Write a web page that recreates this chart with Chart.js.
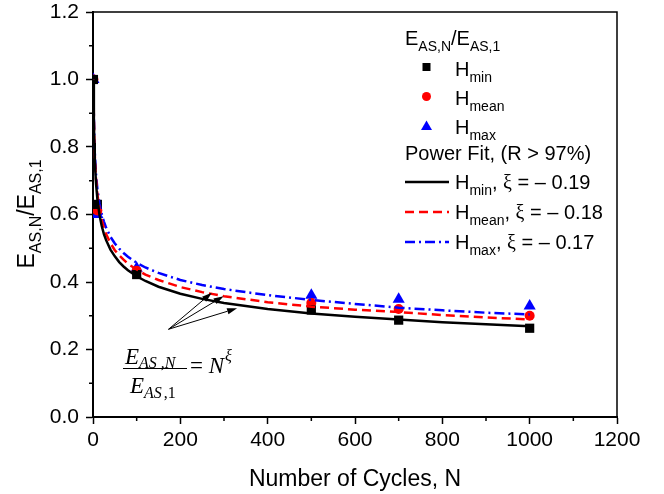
<!DOCTYPE html>
<html>
<head>
<meta charset="utf-8">
<script src="https://cdn.jsdelivr.net/npm/chart.js@4.4.0/dist/chart.umd.min.js"></script>
<style>
    body { margin: 0; background: #fff; }
    canvas { display: block; }
</style>
</head>
<body>
<canvas id="cyclesChart" width="664" height="494"></canvas>
<script>
// measured points
var cycles = [1, 10, 100, 500, 700, 1000];
var hMin = [1.0, 0.630, 0.422, 0.317, 0.287, 0.263];
var hMean = [1.0, 0.612, 0.433, 0.338, 0.320, 0.300];
var hMax = [1.0, 0.600, 0.441, 0.361, 0.349, 0.329];

// power fit curves
var fitN = [1, 2, 3, 4, 5, 7, 10, 15, 20, 25, 30, 40, 50, 60, 70, 80, 100, 120, 150, 200, 250, 300, 400, 500, 600, 700, 800, 900, 1000];
var fitMin = [1.0, 0.877, 0.812, 0.768, 0.737, 0.691, 0.646, 0.598, 0.566, 0.542, 0.524, 0.496, 0.476, 0.459, 0.446, 0.435, 0.417, 0.403, 0.386, 0.365, 0.350, 0.338, 0.320, 0.307, 0.297, 0.289, 0.281, 0.275, 0.269];
var fitMean = [1.0, 0.883, 0.821, 0.779, 0.749, 0.704, 0.661, 0.614, 0.583, 0.560, 0.542, 0.515, 0.494, 0.479, 0.466, 0.454, 0.437, 0.422, 0.406, 0.385, 0.370, 0.358, 0.340, 0.327, 0.318, 0.311, 0.302, 0.295, 0.289];
var fitMax = [1.0, 0.889, 0.830, 0.790, 0.761, 0.718, 0.676, 0.631, 0.601, 0.579, 0.561, 0.534, 0.514, 0.499, 0.486, 0.475, 0.457, 0.443, 0.427, 0.406, 0.391, 0.379, 0.361, 0.347, 0.335, 0.324, 0.316, 0.309, 0.304];

var xTicks = [0, 200, 400, 600, 800, 1000, 1200];
var yTicks = [0.0, 0.2, 0.4, 0.6, 0.8, 1.0, 1.2];

var sans = '"Liberation Sans", Arial, sans-serif';
var serif = '"Liberation Serif", "Times New Roman", serif';

function pairs(xs, ys) {
    return xs.map(function(x, i) { return { x: x, y: ys[i] }; });
}

// draws text made of pieces, some of them subscript / superscript
function richText(ctx, x, y, parts, size) {
    parts.forEach(function(p) {
        var fs = p.small ? Math.round(size * 0.68) : size;
        ctx.font = (p.italic ? 'italic ' : '') + fs + 'px ' + (p.serif ? serif : sans);
        var dy = 0;
        if (p.sub) dy = size * 0.3;
        if (p.sup) dy = -size * 0.42;
        if (p.dy !== undefined) dy = p.dy;
        ctx.fillText(p.t, x, y + dy);
        x += ctx.measureText(p.t).width + (p.gap || 0);
    });
    return x;
}

function arrow(ctx, x0, y0, x1, y1) {
    var a = Math.atan2(y1 - y0, x1 - x0);
    var len = 10, hw = 3.2;
    ctx.beginPath();
    ctx.moveTo(x0, y0);
    ctx.lineTo(x1 - len * Math.cos(a), y1 - len * Math.sin(a));
    ctx.stroke();
    ctx.beginPath();
    ctx.moveTo(x1, y1);
    ctx.lineTo(x1 - len * Math.cos(a) + hw * Math.sin(a), y1 - len * Math.sin(a) - hw * Math.cos(a));
    ctx.lineTo(x1 - len * Math.cos(a) - hw * Math.sin(a), y1 - len * Math.sin(a) + hw * Math.cos(a));
    ctx.closePath();
    ctx.fill();
}

var decorPlugin = {
    id: 'decor',
    afterDraw: function(chart) {
        var ctx = chart.ctx;
        var area = chart.chartArea;
        var xs = chart.scales.x, ys = chart.scales.y;
        ctx.save();
        ctx.strokeStyle = '#000';
        ctx.fillStyle = '#000';

        // top and right frame
        ctx.lineWidth = 1.5;
        ctx.beginPath();
        ctx.moveTo(area.left, area.top);
        ctx.lineTo(area.right, area.top);
        ctx.lineTo(area.right, area.bottom);
        ctx.stroke();

        // minor ticks
        ctx.lineWidth = 1.5;
        ctx.beginPath();
        for (var i = 0; i < xTicks.length - 1; i++) {
            var mx = xs.getPixelForValue((xTicks[i] + xTicks[i + 1]) / 2);
            ctx.moveTo(mx, area.bottom);
            ctx.lineTo(mx, area.bottom + 4);
        }
        for (var j = 0; j < yTicks.length - 1; j++) {
            var my = ys.getPixelForValue((yTicks[j] + yTicks[j + 1]) / 2);
            ctx.moveTo(area.left, my);
            ctx.lineTo(area.left - 4, my);
        }
        ctx.stroke();

        // axis titles
        ctx.textBaseline = 'alphabetic';
        ctx.textAlign = 'center';
        ctx.font = '23px ' + sans;
        ctx.fillText('Number of Cycles, N', (area.left + area.right) / 2, 486);

        ctx.save();
        ctx.translate(34, (area.top + area.bottom) / 2 + 54);
        ctx.rotate(-Math.PI / 2);
        ctx.textAlign = 'left';
        richText(ctx, 0, 0, [
            { t: 'E' }, { t: 'AS,N', small: true, sub: true }, { t: '/E' }, { t: 'AS,1', small: true, sub: true }
        ], 23);
        ctx.restore();

        // legend
        ctx.textAlign = 'left';
        var lx = 405, tx = 455;
        richText(ctx, lx, 45, [
            { t: 'E' }, { t: 'AS,N', small: true, sub: true }, { t: '/E' }, { t: 'AS,1', small: true, sub: true }
        ], 20);

        ctx.fillStyle = '#000';
        ctx.fillRect(426.5 - 4, 67 - 4, 8, 8);
        richText(ctx, tx, 76, [{ t: 'H' }, { t: 'min', small: true, sub: true }], 20);

        ctx.fillStyle = '#ff0000';
        ctx.beginPath();
        ctx.arc(426.5, 96.5, 4.5, 0, Math.PI * 2);
        ctx.fill();
        ctx.fillStyle = '#000';
        richText(ctx, tx, 105, [{ t: 'H' }, { t: 'mean', small: true, sub: true }], 20);

        ctx.fillStyle = '#0000ff';
        ctx.beginPath();
        ctx.moveTo(426.5, 120.5);
        ctx.lineTo(432, 130);
        ctx.lineTo(421, 130);
        ctx.closePath();
        ctx.fill();
        ctx.fillStyle = '#000';
        richText(ctx, tx, 134, [{ t: 'H' }, { t: 'max', small: true, sub: true }], 20);

        ctx.font = '20px ' + sans;
        ctx.fillText('Power Fit, (R > 97%)', lx, 160);

        var fitRows = [
            { y: 182, color: '#000', dash: [], sub: 'min', val: '0.19' },
            { y: 212, color: '#ff0000', dash: [9, 5], sub: 'mean', val: '0.18' },
            { y: 242, color: '#0000ff', dash: [10, 4, 2, 4], sub: 'max', val: '0.17' }
        ];
        fitRows.forEach(function(r) {
            ctx.strokeStyle = r.color;
            ctx.lineWidth = 2.5;
            ctx.setLineDash(r.dash);
            ctx.beginPath();
            ctx.moveTo(lx, r.y);
            ctx.lineTo(449, r.y);
            ctx.stroke();
            ctx.setLineDash([]);
            ctx.fillStyle = '#000';
            richText(ctx, tx, r.y + 6.5, [
                { t: 'H' }, { t: r.sub, small: true, sub: true }, { t: ', ' },
                { t: '\u03BE', serif: true }, { t: ' = \u2013 ' + r.val }
            ], 20);
        });

        // formula annotation
        ctx.fillStyle = '#000';
        ctx.strokeStyle = '#000';
        richText(ctx, 125, 364, [
            { t: 'E', serif: true, italic: true, gap: 0 },
            { t: 'AS', serif: true, italic: true, small: true, dy: 3.5, gap: 4 },
            { t: ',N', serif: true, italic: true, small: true, dy: 3.5 }
        ], 23);
        ctx.lineWidth = 1;
        ctx.beginPath();
        ctx.moveTo(123, 368.5);
        ctx.lineTo(187, 368.5);
        ctx.stroke();
        richText(ctx, 130, 393, [
            { t: 'E', serif: true, italic: true, gap: 0 },
            { t: 'AS', serif: true, italic: true, small: true, dy: 5, gap: 2 },
            { t: ',1', serif: true, small: true, dy: 5 }
        ], 23);
        richText(ctx, 190, 372.5, [
            { t: '= ', serif: true },
            { t: 'N', serif: true, italic: true, gap: 1 },
            { t: '\u03BE', serif: true, italic: true, small: true, dy: -12 }
        ], 23);

        // arrows towards the three fits
        ctx.lineWidth = 1;
        var sx = xs.getPixelForValue(173), sy = ys.getPixelForValue(0.26);
        arrow(ctx, sx, sy, xs.getPixelForValue(272), ys.getPixelForValue(0.368));
        arrow(ctx, sx, sy, xs.getPixelForValue(299), ys.getPixelForValue(0.358));
        arrow(ctx, sx, sy, xs.getPixelForValue(330), ys.getPixelForValue(0.322));

        ctx.restore();
    }
};

var ctx = document.getElementById('cyclesChart');
var chart = new Chart(ctx, {
    type: 'line',
    data: {
        datasets: [
            {
                label: 'Hmin',
                data: pairs(cycles, hMin),
                showLine: false,
                pointStyle: 'rect',
                pointRadius: 6.5,
                backgroundColor: '#000',
                borderColor: '#000',
                borderWidth: 0,
                order: 3
            },
            {
                label: 'Hmean',
                data: pairs(cycles, hMean),
                showLine: false,
                pointStyle: 'circle',
                pointRadius: 5,
                backgroundColor: '#ff0000',
                borderColor: '#ff0000',
                borderWidth: 0,
                order: 3
            },
            {
                label: 'Hmax',
                data: pairs(cycles, hMax),
                showLine: false,
                pointStyle: 'triangle',
                pointRadius: 7,
                backgroundColor: '#0000ff',
                borderColor: '#0000ff',
                borderWidth: 0,
                order: 3
            },
            {
                label: 'Fit Hmax',
                data: pairs(fitN, fitMax),
                borderColor: '#0000ff',
                borderWidth: 2.5,
                borderDash: [10, 4, 2, 4],
                pointRadius: 0,
                tension: 0,
                fill: false,
                order: 2
            },
            {
                label: 'Fit Hmean',
                data: pairs(fitN, fitMean),
                borderColor: '#ff0000',
                borderWidth: 2.5,
                borderDash: [9, 5],
                pointRadius: 0,
                tension: 0,
                fill: false,
                order: 1
            },
            {
                label: 'Fit Hmin',
                data: pairs(fitN, fitMin),
                borderColor: '#000',
                borderWidth: 2.5,
                pointRadius: 0,
                tension: 0,
                fill: false,
                order: 0
            }
        ]
    },
    options: {
        responsive: false,
        animation: false,
        layout: {
            padding: { top: 12, right: 47, bottom: 0, left: 0 }
        },
        plugins: {
            legend: { display: false },
            tooltip: { enabled: false }
        },
        scales: {
            x: {
                type: 'linear',
                min: 0,
                max: 1200,
                afterBuildTicks: function(scale) {
                    scale.ticks = xTicks.map(function(v) { return { value: v }; });
                },
                afterFit: function(scale) {
                    scale.height = 77;
                    scale.paddingLeft = 0;
                    scale.paddingRight = 0;
                },
                ticks: {
                    color: '#000',
                    font: { family: sans, size: 21 },
                    padding: 4,
                    maxRotation: 0,
                    callback: function(v) { return String(v); }
                },
                grid: {
                    drawOnChartArea: false,
                    drawTicks: true,
                    tickLength: 7,
                    tickColor: '#000',
                    tickWidth: 1.5
                },
                border: { display: true, color: '#000', width: 2 }
            },
            y: {
                type: 'linear',
                min: 0,
                max: 1.2,
                afterBuildTicks: function(scale) {
                    scale.ticks = yTicks.map(function(v) { return { value: v }; });
                },
                afterFit: function(scale) {
                    scale.width = 93;
                    scale.paddingTop = 0;
                    scale.paddingBottom = 0;
                },
                ticks: {
                    color: '#000',
                    font: { family: sans, size: 21 },
                    padding: 7,
                    callback: function(v) { return v.toFixed(1); }
                },
                grid: {
                    drawOnChartArea: false,
                    drawTicks: true,
                    tickLength: 7,
                    tickColor: '#000',
                    tickWidth: 1.5
                },
                border: { display: true, color: '#000', width: 2 }
            }
        }
    },
    plugins: [decorPlugin]
});
</script>
</body>
</html>
